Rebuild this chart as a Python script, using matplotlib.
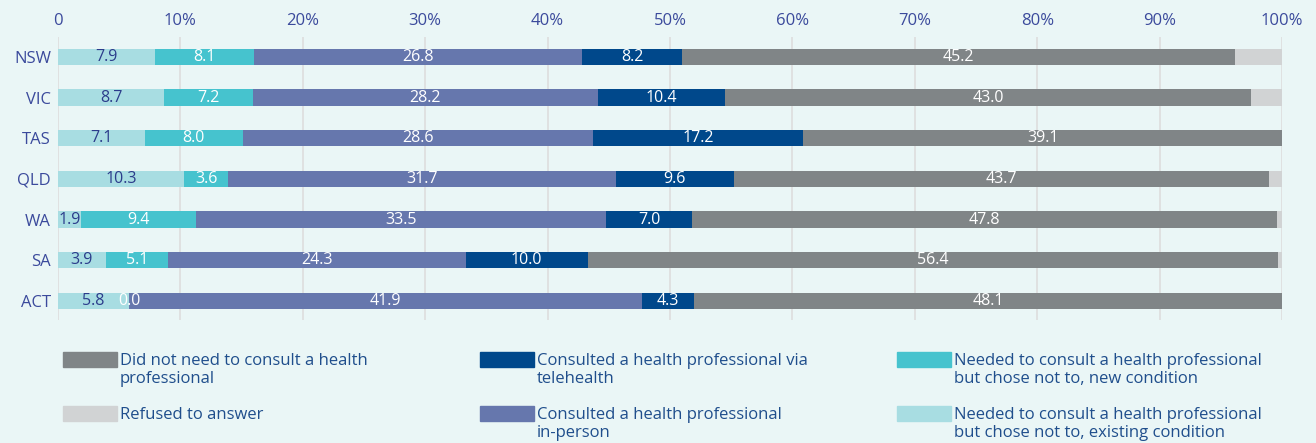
import matplotlib
matplotlib.use("Agg")
import matplotlib.pyplot as plt
from matplotlib.patches import Rectangle
import numpy as np

states = ["NSW", "VIC", "TAS", "QLD", "WA", "SA", "ACT"]
existing = [7.9, 8.7, 7.1, 10.3, 1.9, 3.9, 5.8]
new_cond = [8.1, 7.2, 8.0, 3.6, 9.4, 5.1, 0.0]
in_person = [26.8, 28.2, 28.6, 31.7, 33.5, 24.3, 41.9]
telehealth = [8.2, 10.4, 17.2, 9.6, 7.0, 10.0, 4.3]
no_need = [45.2, 43.0, 39.1, 43.7, 47.8, 56.4, 48.1]
refused = [3.8, 2.5, 0.0, 1.1, 0.4, 0.3, 0.0]
ticks = [0, 10, 20, 30, 40, 50, 60, 70, 80, 90, 100]
tick_labels = ["0", "10%", "20%", "30%", "40%", "50%", "60%", "70%", "80%", "90%", "100%"]

series = [
    ("Needed to consult a health professional\nbut chose not to, existing condition", existing, "#A8DDE2", "#2B3C8B", True),
    ("Needed to consult a health professional\nbut chose not to, new condition", new_cond, "#46C3CE", "white", True),
    ("Consulted a health professional\nin-person", in_person, "#6677AD", "white", True),
    ("Consulted a health professional via\ntelehealth", telehealth, "#00488B", "white", True),
    ("Did not need to consult a health\nprofessional", no_need, "#808587", "white", True),
    ("Refused to answer", refused, "#D1D3D4", "white", False),
]

BG = "#EAF6F6"
TXT = "#3B4A9C"
LEG = "#1F4E8C"
FONT = ["Open Sans", "DejaVu Sans"]
plt.rcParams["font.family"] = FONT

fig = plt.figure(figsize=(13.16, 4.43), dpi=100, facecolor=BG)
ax = fig.add_axes([58 / 1316, 1 - 320 / 443, (1282 - 58) / 1316, (320 - 37) / 443])
ax.set_facecolor(BG)

y = np.arange(len(states))
left = np.zeros(len(states))
for name, vals, color, tcol, show in series:
    vals = np.array(vals)
    ax.barh(y, vals, left=left, height=0.4, color=color, edgecolor="none", zorder=3)
    if show:
        for yi, l, v in zip(y, left, vals):
            ax.text(l + v / 2, yi, f"{v:.1f}", ha="center", va="center",
                    color=tcol, fontsize=11.5, zorder=5)
    left = left + vals

ax.set_xlim(0, 100)
ax.set_ylim(6.47, -0.49)
ax.set_yticks(y)
ax.set_yticklabels(states, fontsize=12, color=TXT)
ax.set_xticks(ticks)
ax.set_xticklabels(tick_labels, fontsize=12, color=TXT)
ax.xaxis.tick_top()
ax.tick_params(axis="both", length=0)
ax.tick_params(axis="x", pad=6)
ax.tick_params(axis="y", pad=5)
for s in ax.spines.values():
    s.set_visible(False)
ax.grid(axis="x", color="#DDDDDD", linewidth=1.2, zorder=0)
ax.set_axisbelow(True)

# Legend (manual, 3 columns x 2 rows)
legend_layout = [
    (series[4], 63, 352),
    (series[5], 63, 406),
    (series[3], 480, 352),
    (series[2], 480, 406),
    (series[1], 897, 352),
    (series[0], 897, 406),
]
W, H = 1316, 443
for (name, vals, color, tcol, show), px, py in legend_layout:
    fig.patches.append(Rectangle((px / W, 1 - (py + 15) / H), 54 / W, 15 / H,
                                 transform=fig.transFigure, color=color, zorder=2))
    fig.text((px + 57) / W, 1 - (py + 1) / H, name, ha="left", va="top",
             fontsize=12, color=LEG, linespacing=1.2)

fig.savefig("out.png", dpi=100, facecolor=BG)
